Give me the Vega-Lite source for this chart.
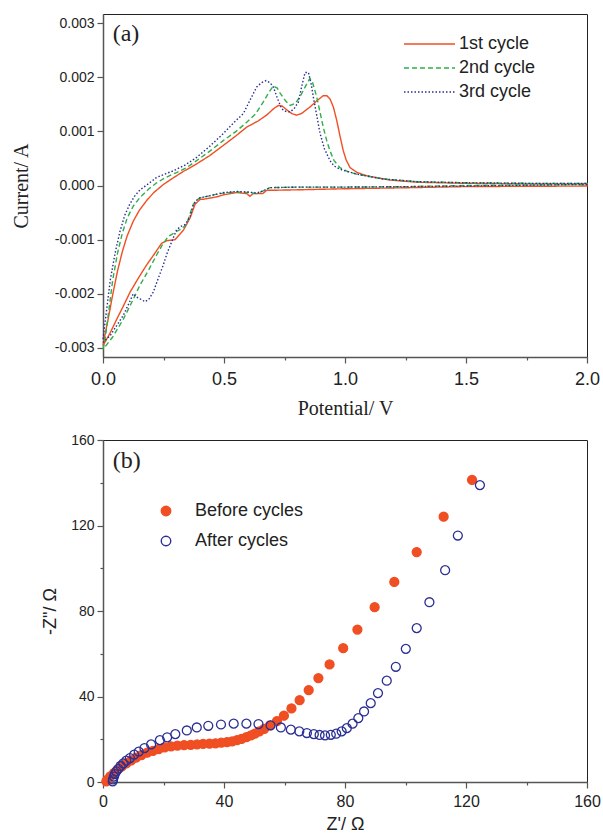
{
  "$schema": "https://vega.github.io/schema/vega-lite/v6.json",
  "padding": {"left": 10, "top": 13, "right": 10, "bottom": 0},
  "spacing": 13,
  "config": {
    "view": {"stroke": "#222", "strokeWidth": 1},
    "axis": {"domainColor": "#555", "domainWidth": 1.5, "tickColor": "#555", "tickWidth": 1.2, "labelColor": "#222", "titleColor": "#222", "grid": false, "labelFont": "Liberation Sans", "labelFlush": false, "labelOverlap": false, "titleFontWeight": "normal"},
    "legend": {"labelFont": "Liberation Sans", "labelColor": "#222", "labelFontSize": 18}
  },
  "datasets": {
    "cv": [
      {"c":"1st cycle","i":0,"v":0,"a":-0.00296},{"c":"1st cycle","i":1,"v":0.01,"a":-0.00272},{"c":"1st cycle","i":2,"v":0.02,"a":-0.0025},{"c":"1st cycle","i":3,"v":0.04,"a":-0.00202},{"c":"1st cycle","i":4,"v":0.06,"a":-0.00158},{"c":"1st cycle","i":5,"v":0.08,"a":-0.00122},{"c":"1st cycle","i":6,"v":0.1,"a":-0.00093},{"c":"1st cycle","i":7,"v":0.125,"a":-0.00066},{"c":"1st cycle","i":8,"v":0.15,"a":-0.00046},{"c":"1st cycle","i":9,"v":0.18,"a":-0.00028},{"c":"1st cycle","i":10,"v":0.21,"a":-0.00013},{"c":"1st cycle","i":11,"v":0.25,"a":0.00002},{"c":"1st cycle","i":12,"v":0.29,"a":0.00014},{"c":"1st cycle","i":13,"v":0.332,"a":0.00026},{"c":"1st cycle","i":14,"v":0.387,"a":0.0004},{"c":"1st cycle","i":15,"v":0.44,"a":0.00055},{"c":"1st cycle","i":16,"v":0.497,"a":0.00074},{"c":"1st cycle","i":17,"v":0.55,"a":0.00092},{"c":"1st cycle","i":18,"v":0.594,"a":0.00108},{"c":"1st cycle","i":19,"v":0.64,"a":0.00119},{"c":"1st cycle","i":20,"v":0.676,"a":0.0013},{"c":"1st cycle","i":21,"v":0.705,"a":0.00142},{"c":"1st cycle","i":22,"v":0.725,"a":0.00148},{"c":"1st cycle","i":23,"v":0.74,"a":0.00147},{"c":"1st cycle","i":24,"v":0.759,"a":0.0014},{"c":"1st cycle","i":25,"v":0.78,"a":0.00133},{"c":"1st cycle","i":26,"v":0.8,"a":0.0013},{"c":"1st cycle","i":27,"v":0.82,"a":0.00133},{"c":"1st cycle","i":28,"v":0.855,"a":0.00145},{"c":"1st cycle","i":29,"v":0.885,"a":0.00157},{"c":"1st cycle","i":30,"v":0.91,"a":0.00166},{"c":"1st cycle","i":31,"v":0.925,"a":0.00166},{"c":"1st cycle","i":32,"v":0.938,"a":0.0016},{"c":"1st cycle","i":33,"v":0.952,"a":0.00145},{"c":"1st cycle","i":34,"v":0.966,"a":0.0012},{"c":"1st cycle","i":35,"v":0.98,"a":0.0009},{"c":"1st cycle","i":36,"v":0.993,"a":0.00064},{"c":"1st cycle","i":37,"v":1.005,"a":0.00047},{"c":"1st cycle","i":38,"v":1.021,"a":0.00033},{"c":"1st cycle","i":39,"v":1.05,"a":0.00024},{"c":"1st cycle","i":40,"v":1.09,"a":0.00018},{"c":"1st cycle","i":41,"v":1.186,"a":0.0001},{"c":"1st cycle","i":42,"v":1.3,"a":0.00006},{"c":"1st cycle","i":43,"v":1.5,"a":0.00004},{"c":"1st cycle","i":44,"v":1.75,"a":0.00003},{"c":"1st cycle","i":45,"v":2.0,"a":0.00003},
      {"c":"1st cycle","i":46,"v":2.0,"a":-0.00001},{"c":"1st cycle","i":47,"v":1.5,"a":-0.00002},{"c":"1st cycle","i":48,"v":1.27,"a":-0.00004},{"c":"1st cycle","i":49,"v":1.0,"a":-0.00006},{"c":"1st cycle","i":50,"v":0.8,"a":-0.00008},{"c":"1st cycle","i":51,"v":0.676,"a":-0.00009},{"c":"1st cycle","i":52,"v":0.66,"a":-0.00015},{"c":"1st cycle","i":53,"v":0.649,"a":-0.00015},{"c":"1st cycle","i":54,"v":0.62,"a":-0.00015},{"c":"1st cycle","i":55,"v":0.607,"a":-0.0002},{"c":"1st cycle","i":56,"v":0.594,"a":-0.00015},{"c":"1st cycle","i":57,"v":0.552,"a":-0.00013},{"c":"1st cycle","i":58,"v":0.5,"a":-0.00017},{"c":"1st cycle","i":59,"v":0.47,"a":-0.00021},{"c":"1st cycle","i":60,"v":0.42,"a":-0.00025},{"c":"1st cycle","i":61,"v":0.4,"a":-0.00026},{"c":"1st cycle","i":62,"v":0.38,"a":-0.00035},{"c":"1st cycle","i":63,"v":0.36,"a":-0.0006},{"c":"1st cycle","i":64,"v":0.333,"a":-0.00082},{"c":"1st cycle","i":65,"v":0.298,"a":-0.001},{"c":"1st cycle","i":66,"v":0.263,"a":-0.00102},{"c":"1st cycle","i":67,"v":0.242,"a":-0.00107},{"c":"1st cycle","i":68,"v":0.21,"a":-0.00128},{"c":"1st cycle","i":69,"v":0.18,"a":-0.00147},{"c":"1st cycle","i":70,"v":0.145,"a":-0.00172},{"c":"1st cycle","i":71,"v":0.112,"a":-0.00197},{"c":"1st cycle","i":72,"v":0.085,"a":-0.00222},{"c":"1st cycle","i":73,"v":0.057,"a":-0.00247},{"c":"1st cycle","i":74,"v":0.03,"a":-0.00272},{"c":"1st cycle","i":75,"v":0,"a":-0.00296},
      {"c":"2nd cycle","i":0,"v":0,"a":-0.00303},{"c":"2nd cycle","i":1,"v":0.01,"a":-0.0028},{"c":"2nd cycle","i":2,"v":0.02,"a":-0.00245},{"c":"2nd cycle","i":3,"v":0.04,"a":-0.00175},{"c":"2nd cycle","i":4,"v":0.06,"a":-0.00125},{"c":"2nd cycle","i":5,"v":0.08,"a":-0.00088},{"c":"2nd cycle","i":6,"v":0.1,"a":-0.0006},{"c":"2nd cycle","i":7,"v":0.125,"a":-0.00038},{"c":"2nd cycle","i":8,"v":0.153,"a":-0.00022},{"c":"2nd cycle","i":9,"v":0.19,"a":-0.00006},{"c":"2nd cycle","i":10,"v":0.222,"a":0.00005},{"c":"2nd cycle","i":11,"v":0.26,"a":0.00015},{"c":"2nd cycle","i":12,"v":0.304,"a":0.00024},{"c":"2nd cycle","i":13,"v":0.345,"a":0.00033},{"c":"2nd cycle","i":14,"v":0.387,"a":0.00046},{"c":"2nd cycle","i":15,"v":0.44,"a":0.00063},{"c":"2nd cycle","i":16,"v":0.497,"a":0.00083},{"c":"2nd cycle","i":17,"v":0.55,"a":0.001},{"c":"2nd cycle","i":18,"v":0.594,"a":0.00117},{"c":"2nd cycle","i":19,"v":0.63,"a":0.00132},{"c":"2nd cycle","i":20,"v":0.662,"a":0.00154},{"c":"2nd cycle","i":21,"v":0.685,"a":0.00172},{"c":"2nd cycle","i":22,"v":0.704,"a":0.00184},{"c":"2nd cycle","i":23,"v":0.72,"a":0.0018},{"c":"2nd cycle","i":24,"v":0.733,"a":0.0017},{"c":"2nd cycle","i":25,"v":0.755,"a":0.00156},{"c":"2nd cycle","i":26,"v":0.774,"a":0.00148},{"c":"2nd cycle","i":27,"v":0.795,"a":0.00152},{"c":"2nd cycle","i":28,"v":0.814,"a":0.00164},{"c":"2nd cycle","i":29,"v":0.835,"a":0.00182},{"c":"2nd cycle","i":30,"v":0.855,"a":0.00198},{"c":"2nd cycle","i":31,"v":0.865,"a":0.00192},{"c":"2nd cycle","i":32,"v":0.883,"a":0.00164},{"c":"2nd cycle","i":33,"v":0.897,"a":0.00135},{"c":"2nd cycle","i":34,"v":0.91,"a":0.00108},{"c":"2nd cycle","i":35,"v":0.925,"a":0.00082},{"c":"2nd cycle","i":36,"v":0.938,"a":0.00064},{"c":"2nd cycle","i":37,"v":0.955,"a":0.00046},{"c":"2nd cycle","i":38,"v":0.979,"a":0.00033},{"c":"2nd cycle","i":39,"v":1.01,"a":0.00026},{"c":"2nd cycle","i":40,"v":1.048,"a":0.00021},{"c":"2nd cycle","i":41,"v":1.158,"a":0.00012},{"c":"2nd cycle","i":42,"v":1.3,"a":0.00007},{"c":"2nd cycle","i":43,"v":1.5,"a":0.00005},{"c":"2nd cycle","i":44,"v":1.75,"a":0.00004},{"c":"2nd cycle","i":45,"v":2.0,"a":0.00004},
      {"c":"2nd cycle","i":46,"v":2.0,"a":0.00002},{"c":"2nd cycle","i":47,"v":1.5,"a":0.0},{"c":"2nd cycle","i":48,"v":1.27,"a":-0.00002},{"c":"2nd cycle","i":49,"v":1.0,"a":-0.00003},{"c":"2nd cycle","i":50,"v":0.8,"a":-0.00003},{"c":"2nd cycle","i":51,"v":0.69,"a":-0.00004},{"c":"2nd cycle","i":52,"v":0.675,"a":-0.00007},{"c":"2nd cycle","i":53,"v":0.662,"a":-0.0001},{"c":"2nd cycle","i":54,"v":0.635,"a":-0.00015},{"c":"2nd cycle","i":55,"v":0.6,"a":-0.00013},{"c":"2nd cycle","i":56,"v":0.552,"a":-0.00012},{"c":"2nd cycle","i":57,"v":0.5,"a":-0.00014},{"c":"2nd cycle","i":58,"v":0.47,"a":-0.00016},{"c":"2nd cycle","i":59,"v":0.43,"a":-0.0002},{"c":"2nd cycle","i":60,"v":0.4,"a":-0.00023},{"c":"2nd cycle","i":61,"v":0.385,"a":-0.00028},{"c":"2nd cycle","i":62,"v":0.373,"a":-0.00035},{"c":"2nd cycle","i":63,"v":0.36,"a":-0.00052},{"c":"2nd cycle","i":64,"v":0.345,"a":-0.00072},{"c":"2nd cycle","i":65,"v":0.325,"a":-0.0008},{"c":"2nd cycle","i":66,"v":0.304,"a":-0.00085},{"c":"2nd cycle","i":67,"v":0.27,"a":-0.00094},{"c":"2nd cycle","i":68,"v":0.245,"a":-0.0011},{"c":"2nd cycle","i":69,"v":0.222,"a":-0.00128},{"c":"2nd cycle","i":70,"v":0.19,"a":-0.00155},{"c":"2nd cycle","i":71,"v":0.153,"a":-0.00184},{"c":"2nd cycle","i":72,"v":0.12,"a":-0.00215},{"c":"2nd cycle","i":73,"v":0.084,"a":-0.00247},{"c":"2nd cycle","i":74,"v":0.04,"a":-0.0028},{"c":"2nd cycle","i":75,"v":0,"a":-0.00303},
      {"c":"3rd cycle","i":0,"v":0,"a":-0.00284},{"c":"3rd cycle","i":1,"v":0.015,"a":-0.0023},{"c":"3rd cycle","i":2,"v":0.03,"a":-0.00175},{"c":"3rd cycle","i":3,"v":0.05,"a":-0.00125},{"c":"3rd cycle","i":4,"v":0.07,"a":-0.00085},{"c":"3rd cycle","i":5,"v":0.09,"a":-0.00055},{"c":"3rd cycle","i":6,"v":0.11,"a":-0.00035},{"c":"3rd cycle","i":7,"v":0.13,"a":-0.0002},{"c":"3rd cycle","i":8,"v":0.153,"a":-0.00008},{"c":"3rd cycle","i":9,"v":0.19,"a":0.00004},{"c":"3rd cycle","i":10,"v":0.222,"a":0.00015},{"c":"3rd cycle","i":11,"v":0.26,"a":0.00022},{"c":"3rd cycle","i":12,"v":0.29,"a":0.00027},{"c":"3rd cycle","i":13,"v":0.34,"a":0.00038},{"c":"3rd cycle","i":14,"v":0.387,"a":0.00052},{"c":"3rd cycle","i":15,"v":0.44,"a":0.00072},{"c":"3rd cycle","i":16,"v":0.497,"a":0.00096},{"c":"3rd cycle","i":17,"v":0.54,"a":0.00116},{"c":"3rd cycle","i":18,"v":0.58,"a":0.00133},{"c":"3rd cycle","i":19,"v":0.61,"a":0.0016},{"c":"3rd cycle","i":20,"v":0.635,"a":0.00182},{"c":"3rd cycle","i":21,"v":0.655,"a":0.0019},{"c":"3rd cycle","i":22,"v":0.674,"a":0.00194},{"c":"3rd cycle","i":23,"v":0.69,"a":0.0019},{"c":"3rd cycle","i":24,"v":0.704,"a":0.00182},{"c":"3rd cycle","i":25,"v":0.72,"a":0.00162},{"c":"3rd cycle","i":26,"v":0.738,"a":0.00142},{"c":"3rd cycle","i":27,"v":0.755,"a":0.00137},{"c":"3rd cycle","i":28,"v":0.773,"a":0.00136},{"c":"3rd cycle","i":29,"v":0.79,"a":0.00142},{"c":"3rd cycle","i":30,"v":0.807,"a":0.00154},{"c":"3rd cycle","i":31,"v":0.822,"a":0.00185},{"c":"3rd cycle","i":32,"v":0.835,"a":0.00209},{"c":"3rd cycle","i":33,"v":0.849,"a":0.00209},{"c":"3rd cycle","i":34,"v":0.86,"a":0.00188},{"c":"3rd cycle","i":35,"v":0.869,"a":0.00164},{"c":"3rd cycle","i":36,"v":0.883,"a":0.0013},{"c":"3rd cycle","i":37,"v":0.897,"a":0.00096},{"c":"3rd cycle","i":38,"v":0.915,"a":0.00068},{"c":"3rd cycle","i":39,"v":0.938,"a":0.00046},{"c":"3rd cycle","i":40,"v":0.955,"a":0.00036},{"c":"3rd cycle","i":41,"v":0.979,"a":0.0003},{"c":"3rd cycle","i":42,"v":1.048,"a":0.00021},{"c":"3rd cycle","i":43,"v":1.158,"a":0.00012},{"c":"3rd cycle","i":44,"v":1.3,"a":0.00007},{"c":"3rd cycle","i":45,"v":1.5,"a":0.00005},{"c":"3rd cycle","i":46,"v":1.75,"a":0.00004},{"c":"3rd cycle","i":47,"v":2.0,"a":0.00004},
      {"c":"3rd cycle","i":48,"v":2.0,"a":0.00002},{"c":"3rd cycle","i":49,"v":1.5,"a":-0.00001},{"c":"3rd cycle","i":50,"v":1.27,"a":-0.00002},{"c":"3rd cycle","i":51,"v":1.0,"a":-0.00003},{"c":"3rd cycle","i":52,"v":0.8,"a":-0.00003},{"c":"3rd cycle","i":53,"v":0.69,"a":-0.00004},{"c":"3rd cycle","i":54,"v":0.675,"a":-0.00007},{"c":"3rd cycle","i":55,"v":0.662,"a":-0.0001},{"c":"3rd cycle","i":56,"v":0.635,"a":-0.00014},{"c":"3rd cycle","i":57,"v":0.6,"a":-0.00012},{"c":"3rd cycle","i":58,"v":0.552,"a":-0.00011},{"c":"3rd cycle","i":59,"v":0.5,"a":-0.00013},{"c":"3rd cycle","i":60,"v":0.47,"a":-0.00016},{"c":"3rd cycle","i":61,"v":0.43,"a":-0.0002},{"c":"3rd cycle","i":62,"v":0.4,"a":-0.00023},{"c":"3rd cycle","i":63,"v":0.385,"a":-0.00028},{"c":"3rd cycle","i":64,"v":0.373,"a":-0.00036},{"c":"3rd cycle","i":65,"v":0.36,"a":-0.00057},{"c":"3rd cycle","i":66,"v":0.34,"a":-0.00072},{"c":"3rd cycle","i":67,"v":0.32,"a":-0.00076},{"c":"3rd cycle","i":68,"v":0.304,"a":-0.00082},{"c":"3rd cycle","i":69,"v":0.284,"a":-0.00104},{"c":"3rd cycle","i":70,"v":0.265,"a":-0.00125},{"c":"3rd cycle","i":71,"v":0.249,"a":-0.00147},{"c":"3rd cycle","i":72,"v":0.228,"a":-0.00172},{"c":"3rd cycle","i":73,"v":0.208,"a":-0.00197},{"c":"3rd cycle","i":74,"v":0.19,"a":-0.0021},{"c":"3rd cycle","i":75,"v":0.174,"a":-0.00215},{"c":"3rd cycle","i":76,"v":0.155,"a":-0.0021},{"c":"3rd cycle","i":77,"v":0.139,"a":-0.00206},{"c":"3rd cycle","i":78,"v":0.125,"a":-0.002},{"c":"3rd cycle","i":79,"v":0.105,"a":-0.0022},{"c":"3rd cycle","i":80,"v":0.084,"a":-0.0024},{"c":"3rd cycle","i":81,"v":0.055,"a":-0.0026},{"c":"3rd cycle","i":82,"v":0.029,"a":-0.00278},{"c":"3rd cycle","i":83,"v":0,"a":-0.0029}
    ],
    "eis": [
      {"s":"Before cycles","zr":122.0,"zi":141.3},{"s":"Before cycles","zr":112.6,"zi":124.1},{"s":"Before cycles","zr":103.7,"zi":107.6},{"s":"Before cycles","zr":96.3,"zi":93.6},{"s":"Before cycles","zr":89.8,"zi":81.8},{"s":"Before cycles","zr":84.1,"zi":71.3},{"s":"Before cycles","zr":79.4,"zi":62.6},{"s":"Before cycles","zr":74.9,"zi":55.0},{"s":"Before cycles","zr":71.2,"zi":48.6},{"s":"Before cycles","zr":68.0,"zi":43.0},{"s":"Before cycles","zr":65.0,"zi":38.3},{"s":"Before cycles","zr":62.3,"zi":34.4},{"s":"Before cycles","zr":59.8,"zi":31.0},{"s":"Before cycles","zr":57.5,"zi":28.5},{"s":"Before cycles","zr":55.2,"zi":26.5},{"s":"Before cycles","zr":53.3,"zi":24.9},{"s":"Before cycles","zr":51.7,"zi":23.7},{"s":"Before cycles","zr":50.2,"zi":22.6},{"s":"Before cycles","zr":48.9,"zi":21.8},{"s":"Before cycles","zr":47.4,"zi":21.0},{"s":"Before cycles","zr":45.8,"zi":20.2},{"s":"Before cycles","zr":44.3,"zi":19.6},{"s":"Before cycles","zr":42.7,"zi":19.0},{"s":"Before cycles","zr":41.0,"zi":18.7},{"s":"Before cycles","zr":39.1,"zi":18.4},{"s":"Before cycles","zr":37.2,"zi":18.1},{"s":"Before cycles","zr":35.2,"zi":17.9},{"s":"Before cycles","zr":33.1,"zi":17.8},{"s":"Before cycles","zr":31.1,"zi":17.6},{"s":"Before cycles","zr":29.0,"zi":17.4},{"s":"Before cycles","zr":26.8,"zi":17.3},{"s":"Before cycles","zr":24.6,"zi":17.0},{"s":"Before cycles","zr":22.5,"zi":16.7},{"s":"Before cycles","zr":20.4,"zi":16.2},{"s":"Before cycles","zr":18.4,"zi":15.4},{"s":"Before cycles","zr":16.5,"zi":14.6},{"s":"Before cycles","zr":14.6,"zi":13.7},{"s":"Before cycles","zr":12.7,"zi":12.6},{"s":"Before cycles","zr":10.9,"zi":11.4},{"s":"Before cycles","zr":9.3,"zi":10.1},{"s":"Before cycles","zr":7.7,"zi":8.7},{"s":"Before cycles","zr":6.2,"zi":7.3},{"s":"Before cycles","zr":4.8,"zi":5.8},{"s":"Before cycles","zr":3.6,"zi":4.2},{"s":"Before cycles","zr":2.4,"zi":2.6},{"s":"Before cycles","zr":1.5,"zi":1.1},{"s":"Before cycles","zr":1.1,"zi":0.3},
      {"s":"After cycles","zr":124.6,"zi":138.9},{"s":"After cycles","zr":117.3,"zi":115.3},{"s":"After cycles","zr":113.1,"zi":99.1},{"s":"After cycles","zr":107.9,"zi":84.1},{"s":"After cycles","zr":103.7,"zi":72.0},{"s":"After cycles","zr":100.1,"zi":62.3},{"s":"After cycles","zr":96.8,"zi":53.9},{"s":"After cycles","zr":93.8,"zi":47.4},{"s":"After cycles","zr":90.9,"zi":41.6},{"s":"After cycles","zr":88.5,"zi":36.9},{"s":"After cycles","zr":86.3,"zi":33.0},{"s":"After cycles","zr":84.4,"zi":29.9},{"s":"After cycles","zr":82.5,"zi":27.3},{"s":"After cycles","zr":80.6,"zi":25.2},{"s":"After cycles","zr":78.9,"zi":23.7},{"s":"After cycles","zr":77.1,"zi":22.6},{"s":"After cycles","zr":75.3,"zi":22.1},{"s":"After cycles","zr":73.4,"zi":21.8},{"s":"After cycles","zr":71.6,"zi":22.0},{"s":"After cycles","zr":69.7,"zi":22.4},{"s":"After cycles","zr":67.4,"zi":22.9},{"s":"After cycles","zr":64.9,"zi":23.7},{"s":"After cycles","zr":62.1,"zi":24.5},{"s":"After cycles","zr":58.8,"zi":25.5},{"s":"After cycles","zr":55.4,"zi":26.5},{"s":"After cycles","zr":51.4,"zi":27.1},{"s":"After cycles","zr":47.4,"zi":27.3},{"s":"After cycles","zr":43.2,"zi":27.3},{"s":"After cycles","zr":39.0,"zi":26.9},{"s":"After cycles","zr":34.8,"zi":26.3},{"s":"After cycles","zr":31.0,"zi":25.5},{"s":"After cycles","zr":27.7,"zi":24.1},{"s":"After cycles","zr":23.9,"zi":22.4},{"s":"After cycles","zr":21.2,"zi":20.9},{"s":"After cycles","zr":18.8,"zi":19.6},{"s":"After cycles","zr":15.9,"zi":17.6},{"s":"After cycles","zr":13.7,"zi":15.9},{"s":"After cycles","zr":11.8,"zi":14.2},{"s":"After cycles","zr":10.3,"zi":12.8},{"s":"After cycles","zr":8.9,"zi":11.2},{"s":"After cycles","zr":7.7,"zi":10.0},{"s":"After cycles","zr":6.7,"zi":8.7},{"s":"After cycles","zr":5.8,"zi":7.5},{"s":"After cycles","zr":5.1,"zi":6.2},{"s":"After cycles","zr":4.4,"zi":5.0},{"s":"After cycles","zr":3.9,"zi":3.7},{"s":"After cycles","zr":3.6,"zi":2.5},{"s":"After cycles","zr":3.3,"zi":1.2},{"s":"After cycles","zr":3.2,"zi":0.3}
    ]
  },
  "vconcat": [
    {
      "width": 484,
      "height": 343,
      "layer": [
        {
          "data": {"name": "cv"},
          "mark": {"type": "line", "strokeWidth": 1.4},
          "encoding": {
            "x": {"field": "v", "type": "quantitative", "scale": {"domain": [0, 2], "nice": false, "zero": false},
              "axis": {"values": [0,0.25,0.5,0.75,1,1.25,1.5,1.75,2], "labelExpr": "datum.value*2 == round(datum.value*2) ? format(datum.value, '.1f') : ''",
                "tickSize": {"condition": {"test": "datum.value*2 == round(datum.value*2)", "value": 6}, "value": 3},
                "labelFontSize": 18, "labelPadding": 7, "title": "Potential/ V", "titleFont": "Liberation Serif", "titleFontSize": 20, "titlePadding": 10}},
            "y": {"field": "a", "type": "quantitative", "scale": {"domain": [-0.00317, 0.00317], "nice": false, "zero": false},
              "axis": {"values": [-0.003,-0.0025,-0.002,-0.0015,-0.001,-0.0005,0,0.0005,0.001,0.0015,0.002,0.0025,0.003],
                "labelExpr": "abs(datum.value*1000 - round(datum.value*1000)) < 0.01 ? replace(format(datum.value, '.3f'), '\u2212', '-') : ''",
                "tickSize": {"condition": {"test": "abs(datum.value*1000 - round(datum.value*1000)) < 0.01", "value": 6}, "value": 3},
                "labelFontSize": 14, "labelPadding": 3, "title": "Current/ A", "titleFont": "Liberation Serif", "titleFontSize": 20, "titlePadding": 23}},
            "color": {"field": "c", "type": "nominal", "scale": {"domain": ["1st cycle", "2nd cycle", "3rd cycle"], "range": ["#f04e23", "#2fae4a", "#2a2f94"]},
              "legend": {"orient": "none", "legendX": 320, "legendY": 19, "title": null, "symbolType": "M-3,0H2.1", "symbolSize": 400, "symbolStrokeWidth": 1.5, "labelOffset": 14, "rowPadding": 4}},
            "strokeDash": {"field": "c", "type": "nominal", "scale": {"domain": ["1st cycle", "2nd cycle", "3rd cycle"], "range": [[1, 0], [5, 3], [1.5, 2]]},
              "legend": {"orient": "none", "legendX": 320, "legendY": 19, "title": null, "symbolType": "M-3,0H2.1", "symbolSize": 400, "symbolStrokeWidth": 1.5, "labelOffset": 14, "rowPadding": 4}},
            "order": {"field": "i", "type": "quantitative"}
          }
        },
        {
          "data": {"values": [{"t": "(a)"}]},
          "mark": {"type": "text", "font": "Liberation Serif", "fontSize": 24, "align": "left", "baseline": "middle", "color": "#222"},
          "encoding": {
            "x": {"datum": 0.04, "type": "quantitative"},
            "y": {"datum": 0.0028, "type": "quantitative"},
            "text": {"field": "t"}
          }
        }
      ]
    },
    {
      "width": 484,
      "height": 342,
      "layer": [
        {
          "data": {"name": "eis"},
          "mark": {"type": "point", "shape": "circle", "size": 80, "strokeWidth": 1.3, "opacity": 1},
          "encoding": {
            "x": {"field": "zr", "type": "quantitative", "scale": {"domain": [0, 160], "nice": false},
              "axis": {"values": [0,20,40,60,80,100,120,140,160], "labelExpr": "datum.value % 40 == 0 ? format(datum.value, 'd') : ''",
                "tickSize": {"condition": {"test": "datum.value % 40 == 0", "value": 6}, "value": 3},
                "labelFontSize": 16, "labelPadding": 5, "title": "Z'/ Ω", "titleFont": "Liberation Sans", "titleFontSize": 18, "titlePadding": 6}},
            "y": {"field": "zi", "type": "quantitative", "scale": {"domain": [0, 160], "nice": false},
              "axis": {"values": [0,20,40,60,80,100,120,140,160], "labelExpr": "datum.value % 40 == 0 ? format(datum.value, 'd') : ''",
                "tickSize": {"condition": {"test": "datum.value % 40 == 0", "value": 6}, "value": 3},
                "labelFontSize": 14, "labelPadding": 3, "title": "-Z\"/ Ω", "titleFont": "Liberation Sans", "titleFontSize": 18, "titlePadding": 11}},
            "fill": {"field": "s", "type": "nominal", "scale": {"domain": ["Before cycles", "After cycles"], "range": ["#f04e23", "transparent"]},
              "legend": {"orient": "none", "legendX": 54, "legendY": 488, "title": null, "symbolSize": 90, "symbolStrokeWidth": 1.4, "labelOffset": 20, "rowPadding": 12}},
            "stroke": {"field": "s", "type": "nominal", "scale": {"domain": ["Before cycles", "After cycles"], "range": ["#f04e23", "#2a2f94"]},
              "legend": {"orient": "none", "legendX": 54, "legendY": 488, "title": null, "symbolSize": 90, "symbolStrokeWidth": 1.4, "labelOffset": 20, "rowPadding": 12}}
          }
        },
        {
          "data": {"values": [{"t": "(b)"}]},
          "mark": {"type": "text", "font": "Liberation Serif", "fontSize": 24, "align": "left", "baseline": "middle", "color": "#222"},
          "encoding": {
            "x": {"datum": 3.2, "type": "quantitative"},
            "y": {"datum": 150, "type": "quantitative"},
            "text": {"field": "t"}
          }
        }
      ]
    }
  ]
}
